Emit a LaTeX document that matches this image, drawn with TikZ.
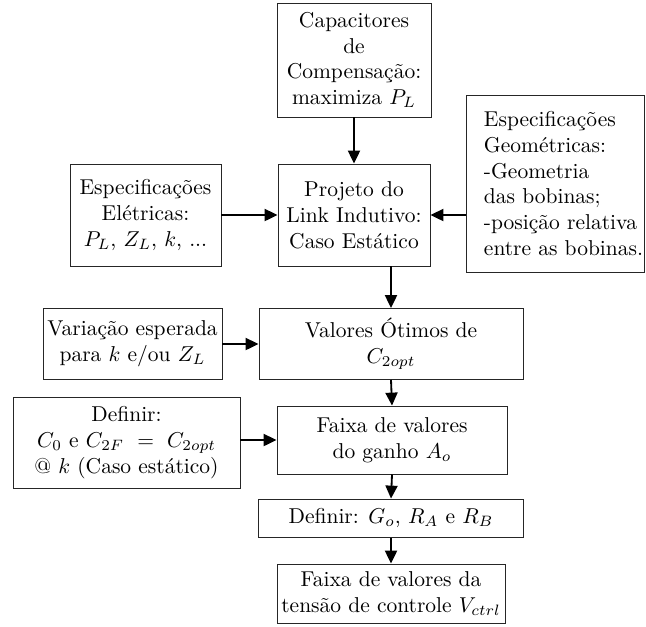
\documentclass[tikz,border=0pt]{standalone}
\usetikzlibrary{arrows.meta}
\newdimen\pxu
\pxu=0.4651pt
\begin{document}
\begin{tikzpicture}[x=0.4651pt, y=-0.4651pt,
  box/.style={draw=black!85, line width=0.45pt, align=center, inner sep=0pt},
  flow/.style={-{Triangle[length=6pt,width=5.6pt]}, line width=0.85pt}]
\useasboundingbox (0,0) rectangle (646,626);

% upper block: link design with its three inputs
\node[box, minimum width={154*\pxu}, minimum height={114*\pxu}] (cap) at (354,60)
  {Capacitores\\de\\Compensação:\\maximiza $P_L$};
\node[box, minimum width={152*\pxu}, minimum height={102*\pxu}] (proj) at (354,215)
  {Projeto do\\Link Indutivo:\\Caso Estático};
\node[box, minimum width={151*\pxu}, minimum height={102*\pxu}] (elet) at (145.5,215)
  {Especificações\\Elétricas:\\$P_L$, $Z_L$, $k$, ...};
\node[box, minimum width={178*\pxu}, minimum height={177*\pxu}] (geo) at (555,183.5) {};
\node[align=left, inner sep=0pt, anchor=west] (geotxt) at ([xshift={18*\pxu}]geo.west)
  {Especificações\\Geométricas:\\-Geometria\\das bobinas;\\-posição relativa\\entre as bobinas.};

% lower chain
\node[box, minimum width={264*\pxu}, minimum height={71*\pxu}] (val) at (391,344)
  {Valores Ótimos de\\$C_{2opt}$};
\node[box, minimum width={179*\pxu}, minimum height={71*\pxu}] (var) at (132.5,344)
  {Variação esperada\\para $k$ e/ou $Z_L$};
\node[box, minimum width={227*\pxu}, minimum height={91*\pxu}] (def) at (126.5,442.5)
  {Definir:\\$C_0$ e $C_{2F}\ =\ C_{2opt}$\\@ $k$ (Caso estático)};
\node[box, minimum width={230*\pxu}, minimum height={68*\pxu}] (faixa) at (392,440)
  {Faixa de valores\\do ganho $A_o$};
\node[box, minimum width={265*\pxu}, minimum height={38*\pxu}] (defG) at (391,518)
  {Definir: $G_o$, $R_A$ e $R_B$};
\node[box, minimum width={228*\pxu}, minimum height={59*\pxu}] (final) at (391,593.5)
  {Faixa de valores da\\tensão de controle $V_{ctrl}$};

% connectors
\draw[flow] (cap.south) -- (proj.north);
\draw[flow] (elet.east) -- (proj.west);
\draw[flow] (geo.west |- proj.east) -- (proj.east);
\draw[flow] (proj.south -| val.north) -- (val.north);
\draw[flow] (var.east) -- (val.west);
\draw[flow] (val.south) -- (faixa.north);
\draw[flow] (def.east |- faixa.west) -- (faixa.west);
\draw[flow] (faixa.south) -- (defG.north);
\draw[flow] (defG.south) -- (final.north);
\end{tikzpicture}
\end{document}
